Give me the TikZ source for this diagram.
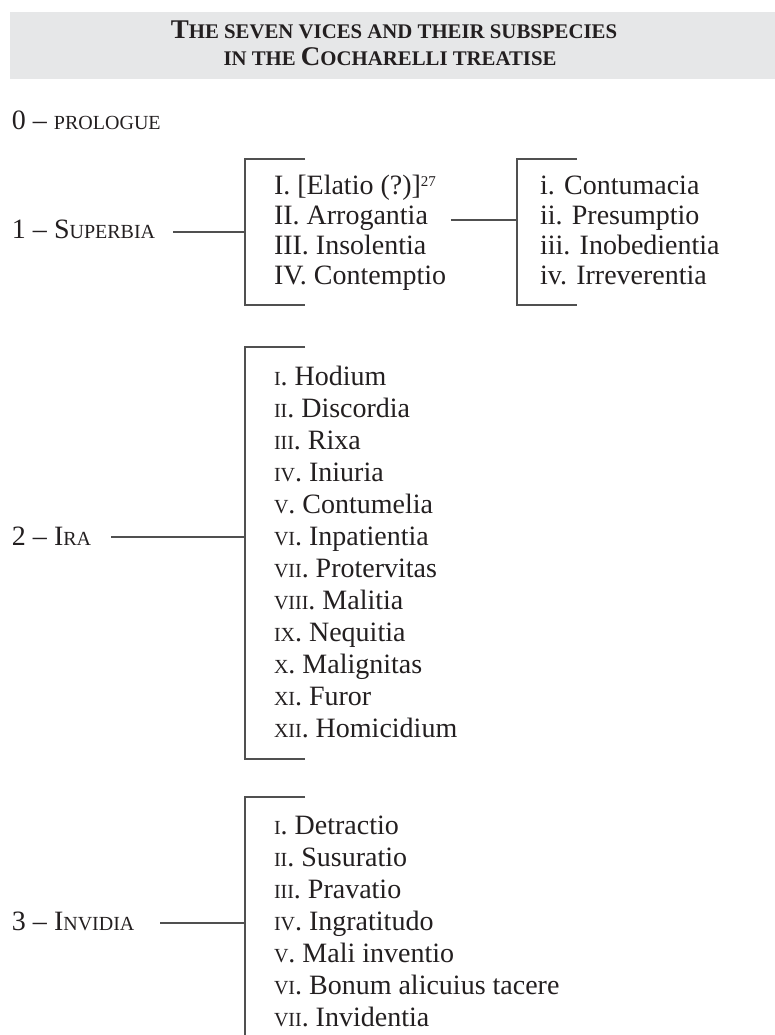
\documentclass[tikz,border=0pt]{standalone}
\usepackage{fontspec}
\setmainfont{Liberation Serif}
\usepackage{xcolor}
\definecolor{ink}{HTML}{231F20}
\definecolor{band}{HTML}{E6E7E8}
\definecolor{rulec}{HTML}{505050}
\newcommand\tbig{\fontsize{27}{30}\selectfont}
\newcommand\tsm{\fontsize{20.8}{30}\selectfont}
\newcommand\fsc[1]{{\fontsize{20}{24}\selectfont #1}}
\newcommand\supnum[1]{\raisebox{8pt}{\fontsize{15}{16}\selectfont #1}}
\begin{document}
\begin{tikzpicture}[x=1pt,y=-1pt,
  lab/.style={anchor=base west, inner sep=0pt, outer sep=0pt, text=ink, font=\fontsize{28}{32}\selectfont},
  ttl/.style={anchor=base, inner sep=0pt, outer sep=0pt, text=ink, font=\bfseries},
  conn/.style={draw=rulec, line width=1.3pt}]
\useasboundingbox (0,0) rectangle (775,1035);
\fill[band] (10,12) rectangle (775,79);
\node[ttl] (t1) at (394,39) {{\tbig T}{\tsm HE SEVEN VICES AND THEIR SUBSPECIES}};
\node[ttl] (t2) at (390,66) {{\tsm IN THE }{\tbig C}{\tsm OCHARELLI TREATISE}};

% labels
\node[lab] (pro) at (12,130) {0 – \fsc{PROLOGUE}};
\node[lab] (sup) at (12,238) {1 – S\fsc{UPERBIA}};
\node[lab] (ira) at (12,545) {2 – I\fsc{RA}};
\node[lab] (inv) at (12,930) {3 – I\fsc{NVIDIA}};

% Superbia list
\node[lab] (s1) at (274,194) {I. [Elatio (?)]\supnum{27}};
\node[lab] (s2) at (274,224) {II. Arrogantia};
\node[lab] (s3) at (274,254) {III. Insolentia};
\node[lab] (s4) at (274,284) {IV. Contemptio};
% sub list
\node[lab] (r1) at (540,194) {i. Contumacia};
\node[lab] (r2) at (540,224) {ii. Presumptio};
\node[lab] (r3) at (540,254) {iii. Inobedientia};
\node[lab] (r4) at (540,284) {iv. Irreverentia};

% Ira list
\foreach \num/\txt [count=\k] in {I/Hodium, II/Discordia, III/Rixa, IV/Iniuria, V/Contumelia, VI/Inpatientia, VII/Protervitas, VIII/Malitia, IX/Nequitia, X/Malignitas, XI/Furor, XII/Homicidium}
  \node[lab] (ira\k) at (274,{385+32*(\k-1)}) {\fsc{\num}. \txt};

% Invidia list
\foreach \num/\txt [count=\k] in {I/Detractio, II/Susuratio, III/Pravatio, IV/Ingratitudo, V/Mali inventio, VI/Bonum alicuius tacere, VII/Invidentia}
  \node[lab] (inv\k) at (274,{834+32*(\k-1)}) {\fsc{\num}. \txt};

% bracket coordinates
\coordinate (b1t) at (245,159); \coordinate (b1b) at (245,305); \coordinate (b1m) at (245,232);
\coordinate (b1te) at (305,159); \coordinate (b1be) at (305,305);
\coordinate (b2t) at (517,159); \coordinate (b2b) at (517,305); \coordinate (b2m) at (517,220);
\coordinate (b2te) at (577,159); \coordinate (b2be) at (577,305);
\coordinate (b3t) at (245,347); \coordinate (b3b) at (245,759); \coordinate (b3m) at (245,537);
\coordinate (b3te) at (305,347); \coordinate (b3be) at (305,759);
\coordinate (b4t) at (245,797); \coordinate (b4b) at (245,1036); \coordinate (b4m) at (245,923);
\coordinate (b4te) at (305,797);

\draw[conn] (b1te) -- (b1t) -- (b1b) -- (b1be);
\draw[conn] (b2te) -- (b2t) -- (b2b) -- (b2be);
\draw[conn] (b3te) -- (b3t) -- (b3b) -- (b3be);
\draw[conn] (b4te) -- (b4t) -- (b4b);

% connectors
\path ([xshift=18pt]sup.east) coordinate (supS);
\path ([xshift=20pt]ira.east) coordinate (iraS);
\path ([xshift=26pt]inv.east) coordinate (invS);
\path ([xshift=23pt]s2.east) coordinate (s2S);
\draw[conn] (supS |- b1m) -- (b1m);
\draw[conn] (iraS |- b3m) -- (b3m);
\draw[conn] (invS |- b4m) -- (b4m);
\draw[conn] (s2S |- b2m) -- (b2m);
\end{tikzpicture}
\end{document}
